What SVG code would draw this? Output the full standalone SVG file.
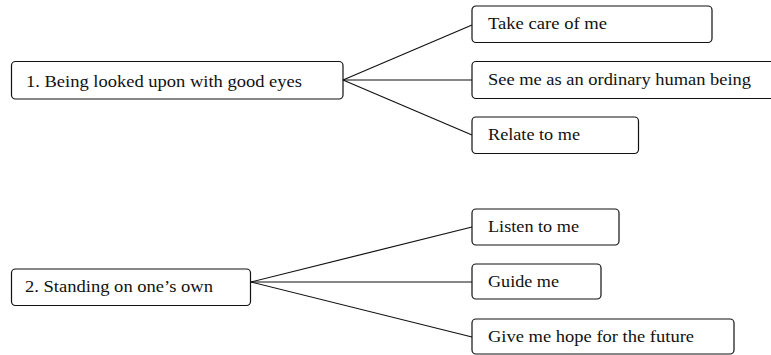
<svg xmlns="http://www.w3.org/2000/svg" width="771" height="355" viewBox="0 0 771 355">
<style>
.box{fill:#fff;stroke:#111;stroke-width:1.2}
.t{font-family:"Liberation Serif","Times New Roman",serif;font-size:16px;fill:#111}
.c{stroke:#111;stroke-width:1.2;fill:none}
</style>
<rect width="771" height="355" fill="#fff"/>
<g id="connectors">
<line class="c" x1="343" y1="80" x2="472" y2="25"/>
<line class="c" x1="343" y1="80" x2="472" y2="80"/>
<line class="c" x1="343" y1="80" x2="472" y2="135"/>
<line class="c" x1="251" y1="282" x2="472" y2="227"/>
<line class="c" x1="251" y1="282" x2="472" y2="282"/>
<line class="c" x1="251" y1="282" x2="472" y2="337"/>
</g>
<g id="n1"><rect class="box" x="11.5" y="61.5" width="331.5" height="37.5" rx="4"/><text class="t" x="26" y="87" textLength="276" lengthAdjust="spacingAndGlyphs">1. Being looked upon with good eyes</text></g>
<g id="n1a"><rect class="box" x="472" y="6" width="240" height="36.5" rx="4"/><text class="t" x="488" y="28.5" textLength="119" lengthAdjust="spacingAndGlyphs">Take care of me</text></g>
<g id="n1b"><rect class="box" x="472" y="61.5" width="305" height="37" rx="4"/><text class="t" x="488" y="85" textLength="263" lengthAdjust="spacingAndGlyphs">See me as an ordinary human being</text></g>
<g id="n1c"><rect class="box" x="472" y="117" width="166.5" height="36.5" rx="4"/><text class="t" x="488" y="140" textLength="92" lengthAdjust="spacingAndGlyphs">Relate to me</text></g>
<g id="n2"><rect class="box" x="11.5" y="269" width="239" height="36.5" rx="4"/><text class="t" x="25" y="292" textLength="188" lengthAdjust="spacingAndGlyphs">2. Standing on one’s own</text></g>
<g id="n2a"><rect class="box" x="472" y="209" width="147" height="36" rx="4"/><text class="t" x="488" y="231.5" textLength="91" lengthAdjust="spacingAndGlyphs">Listen to me</text></g>
<g id="n2b"><rect class="box" x="472" y="264" width="129" height="35" rx="4"/><text class="t" x="488" y="287" textLength="71" lengthAdjust="spacingAndGlyphs">Guide me</text></g>
<g id="n2c"><rect class="box" x="472" y="319" width="262" height="35" rx="4"/><text class="t" x="488" y="342" textLength="206" lengthAdjust="spacingAndGlyphs">Give me hope for the future</text></g>
</svg>
